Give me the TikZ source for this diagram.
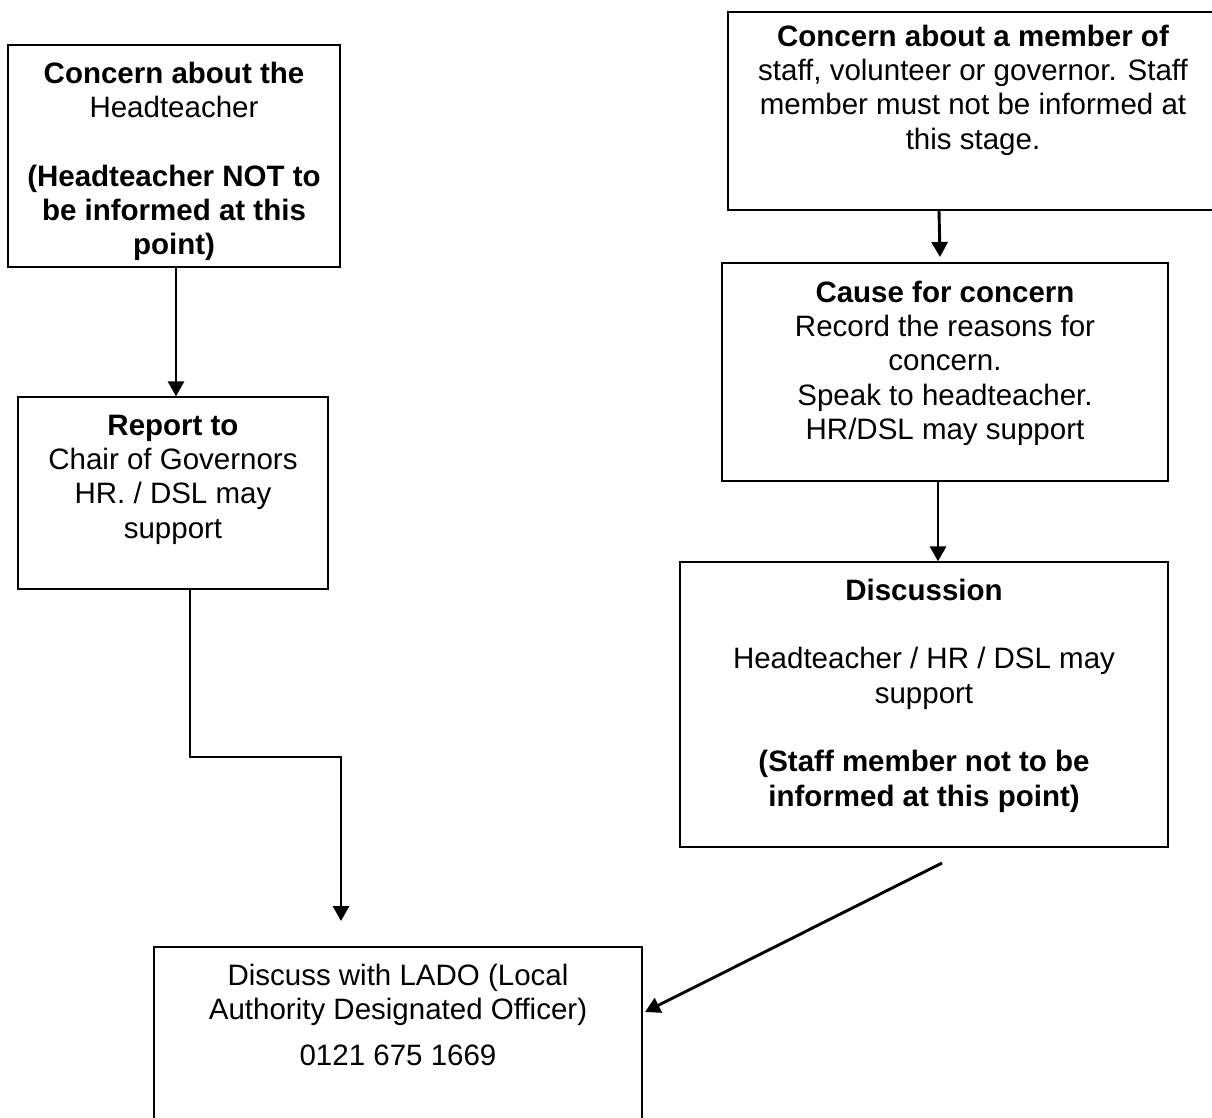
\documentclass[tikz,border=0pt]{standalone}
\usepackage{fontspec}
\setmainfont{Liberation Sans}
\usetikzlibrary{arrows.meta,fit}
\begin{document}
\begin{tikzpicture}[x=1pt,y=-1pt,
  box/.style={draw=black,line width=1.3pt,inner sep=0pt,rectangle},
  txt/.style={font=\fontsize{29.5}{34.3}\selectfont,align=center,inner sep=0pt,anchor=north},
  arr/.style={line width=2.9pt,-{Triangle[width=16pt,length=15pt]}}]
\useasboundingbox (0,0) rectangle (1212,1117);
% boxes
\node[box,fit={(8,45) (340,267)}] (A) {};
\node[box,fit={(728,12) (1222,210)}] (B) {};
\node[box,fit={(722,263) (1168,481)}] (C) {};
\node[box,fit={(18,397) (328,589)}] (D) {};
\node[box,fit={(680,562) (1168,847)}] (E) {};
\node[box,fit={(154,947) (642,1135)}] (F) {};
% texts
\node[txt] (tA) at (174,59) {\strut\textbf{Concern about the}\\Headteacher\\ \\\textbf{(Headteacher NOT to}\\\textbf{be informed at this}\\\textbf{point)}};
\node[txt] (tB) at (973,22) {\strut\textbf{Concern about a member of}\\staff, volunteer or governor. Staff\\member must not be informed at\\this stage.};
\node[txt] (tC) at (945,278) {\strut\textbf{Cause for concern}\\Record the reasons for\\concern.\\Speak to headteacher.\\HR/DSL may support};
\node[txt] (tD) at (173,411) {\strut\textbf{Report to}\\Chair of Governors\\HR. / DSL may\\support};
\node[txt] (tE) at (924,576) {\strut\textbf{Discussion}\\ \\Headteacher / HR / DSL may\\support\\ \\\textbf{(Staff member not to be}\\\textbf{informed at this point)}};
\node[txt] (tF) at (398,961) {\strut Discuss with LADO (Local\\Authority Designated Officer)\\[12pt]0121 675 1669};
% connectors
\coordinate (xAD) at (176,0);
\draw[arr] (A.south -| xAD) -- (D.north -| xAD);
\coordinate (xBC) at (939,0);
\coordinate (tipBC) at (940,257);
\draw[arr] (B.south -| xBC) -- (tipBC);
\coordinate (xCE) at (938,0);
\draw[arr] (C.south -| xCE) -- (E.north -| xCE);
\coordinate (xDF) at (190,0);
\coordinate (elbow) at (341,757);
\coordinate (tipDF) at (341,921);
\draw[arr] (D.south -| xDF) |- (elbow) -- (tipDF);
\coordinate (startEF) at (942,863);
\coordinate (tipEF) at (645,1012);
\draw[arr] (startEF) -- (tipEF);
\end{tikzpicture}
\end{document}
